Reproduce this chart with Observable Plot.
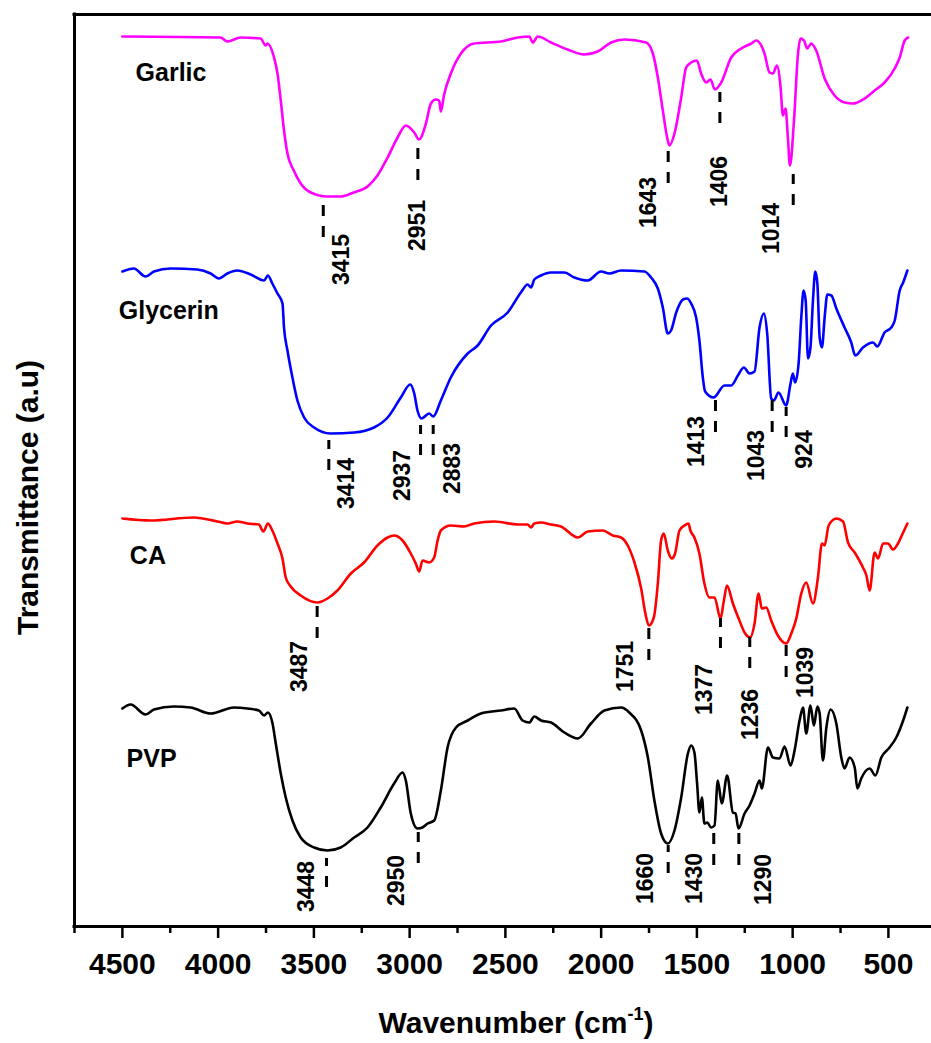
<!DOCTYPE html>
<html>
<head>
<meta charset="utf-8">
<script src="https://cdn.jsdelivr.net/npm/d3@7"></script>
<script src="https://cdn.jsdelivr.net/npm/@observablehq/plot@0.6"></script>
<style>
  body { margin: 0; background: #fff; overflow: hidden; }
  #wrap { position: relative; width: 931px; height: 1043px; font-family: "Liberation Sans", Arial, sans-serif; }
  #xtitle { position: absolute; left: 516px; top: 1005px; transform: translateX(-50%); white-space: nowrap;
            font-size: 30px; font-weight: bold; line-height: 36px; color: #000; }
  #xtitle sup { font-size: 0.6em; line-height: 0; vertical-align: 0.75em; }
</style>
</head>
<body>
<div id="wrap"><div id="xtitle">Wavenumber (cm<sup>-1</sup>)</div></div>
<script>
// ---- Data (wavenumber cm-1, transmittance in arbitrary stacked units) ----
const seriesNames = ["Garlic", "Glycerin", "CA", "PVP"];
const seriesColors = ["#ff00ff", "#0000ff", "#ff0000", "#000000"];

const garlic = [[4500,891],[3987,890],[3952,886],[3882,890],[3778,889],[3752,882],[3743,884],[3708,870],[3690,854],[3673,827],[3656,797],[3638,774],[3605,757],[3569,744],[3516,735],[3429,731],[3360,731],[3292,735],[3220,741],[3168,752],[3115,770],[3063,790],[3020,802],[2976,795],[2951,788],[2915,804],[2889,824],[2863,828],[2846,827],[2837,816],[2821,832],[2785,854],[2732,874],[2664,884],[2523,886],[2436,890],[2375,891],[2357,885],[2331,891],[2262,885],[2175,878],[2088,873],[2018,876],[1948,885],[1879,888],[1765,885],[1730,874],[1704,850],[1678,817],[1652,787],[1643,782],[1617,794],[1582,830],[1556,860],[1530,865],[1500,867],[1478,854],[1452,845],[1429,848],[1406,838],[1373,845],[1321,870],[1269,879],[1216,884],[1190,887],[1164,882],[1147,874],[1121,855],[1103,854],[1082,862],[1063,840],[1051,812],[1037,819],[1025,790],[1014,762],[993,807],[972,874],[959,889],[941,887],[924,879],[903,884],[877,877],[833,849],[781,832],[729,825],[685,824],[633,828],[572,837],[520,845],[467,859],[441,870],[415,887],[397,890]];

const glycerin = [[4500,656],[4440,659],[4379,651],[4335,656],[4248,659],[4109,658],[4039,654],[3996,649],[3952,654],[3900,657],[3830,653],[3760,647],[3740,652],[3717,644],[3690,634],[3664,624],[3656,600],[3638,577],[3612,550],[3586,527],[3551,510],[3499,500],[3412,494],[3290,495],[3186,500],[3115,510],[3046,530],[2997,543],[2976,534],[2959,517],[2938,509],[2898,514],[2877,511],[2837,527],[2785,550],[2697,574],[2645,582],[2575,602],[2488,615],[2419,635],[2384,643],[2366,640],[2349,648],[2314,652],[2262,655],[2192,655],[2140,650],[2070,647],[2001,656],[1957,654],[1896,657],[1774,656],[1739,650],[1704,639],[1678,620],[1652,594],[1635,597],[1608,615],[1573,628],[1551,629],[1530,624],[1504,610],[1487,587],[1469,550],[1457,536],[1413,530],[1356,542],[1321,542],[1286,552],[1255,560],[1225,554],[1199,556],[1173,600],[1150,614],[1133,594],[1112,529],[1098,527],[1074,535],[1034,522],[1011,544],[999,554],[987,545],[969,564],[955,610],[943,637],[932,627],[920,569],[907,580],[894,627],[882,656],[871,644],[859,590],[847,580],[833,610],[819,633],[798,632],[772,619],[729,600],[694,585],[673,572],[633,580],[580,585],[558,581],[520,595],[485,600],[467,607],[441,637],[423,645],[401,657]];

const ca = [[4500,409],[4353,407],[4126,410],[4004,406],[3952,404],[3900,406],[3847,404],[3787,403],[3764,396],[3740,404],[3717,397],[3690,384],[3664,369],[3647,350],[3621,341],[3569,332],[3481,325],[3429,329],[3377,337],[3307,354],[3238,365],[3168,382],[3115,390],[3081,392],[3037,387],[2994,374],[2968,364],[2950,356],[2933,367],[2898,365],[2872,370],[2854,387],[2837,397],[2785,402],[2715,401],[2663,404],[2558,406],[2436,403],[2384,403],[2366,400],[2349,404],[2314,405],[2262,403],[2210,401],[2122,390],[2070,396],[1992,397],[1939,392],[1896,390],[1861,382],[1826,365],[1791,339],[1769,314],[1751,302],[1725,310],[1704,344],[1687,387],[1673,394],[1652,377],[1631,369],[1614,374],[1591,397],[1565,402],[1544,404],[1534,397],[1513,390],[1487,374],[1461,344],[1435,330],[1408,330],[1377,309],[1359,327],[1343,342],[1312,324],[1278,307],[1251,295],[1222,290],[1199,304],[1178,334],[1161,319],[1138,320],[1112,307],[1077,292],[1034,284],[1007,294],[981,309],[955,334],[929,345],[894,324],[868,350],[847,384],[833,382],[812,402],[772,409],[737,406],[711,385],[676,375],[633,360],[615,352],[598,337],[572,375],[554,369],[528,384],[502,384],[476,378],[450,384],[423,395],[401,404]];

const pvp = [[4500,219],[4457,223],[4379,213],[4335,218],[4231,221],[4144,220],[4039,214],[3917,220],[3847,219],[3787,217],[3760,212],[3740,215],[3717,205],[3699,184],[3673,154],[3647,130],[3612,107],[3569,90],[3499,80],[3429,77],[3360,80],[3290,90],[3220,100],[3151,120],[3081,144],[3037,155],[3020,147],[2994,114],[2959,99],[2933,100],[2906,104],[2872,107],[2837,137],[2802,180],[2758,200],[2697,207],[2628,214],[2523,217],[2454,219],[2410,207],[2375,205],[2349,211],[2314,207],[2262,205],[2192,195],[2122,189],[2053,204],[1983,217],[1896,220],[1853,215],[1791,197],[1756,170],[1722,127],[1687,94],[1652,84],[1617,97],[1582,130],[1547,174],[1530,182],[1513,175],[1499,144],[1487,115],[1474,130],[1461,104],[1446,105],[1426,100],[1408,102],[1391,147],[1370,124],[1342,152],[1312,115],[1298,114],[1283,99],[1251,114],[1225,122],[1199,134],[1173,147],[1161,139],[1129,180],[1103,170],[1069,169],[1042,181],[1011,162],[990,177],[964,207],[946,220],[929,194],[907,222],[889,202],[871,221],[859,214],[842,167],[824,200],[802,218],[772,204],[746,170],[729,159],[703,170],[676,160],[662,139],[642,149],[598,159],[568,152],[537,170],[494,180],[459,190],[423,207],[401,220]];

// peak annotations: label, dash position (x, y1..y2), label position (lx, ly)
const peakLabels = ["3415","2951","1643","1406","1014","3414","2937","2883","1413","1043","924","3487","1751","1377","1236","1039","3448","2950","1660","1430","1290"];
const peakDashX  = [3451,2957,1650,1380,997, 3422,2943,2877,1403,1107,1034, 3483,1751,1377,1224,1034, 3434,2955,1650,1412,1281];
const peakDashY1 = [690,747,744,804,722, 457,472,472,495,495,490, 289,267,279,259,250, 40,64,54,62,62];
const peakDashY2 = [722,779,777,835,753, 487,502,502,527,527,520, 322,299,309,290,282, 69,95,82,94,94];
const peakLabelX = [3356,2960,1753,1382,1110, 3330,3039,2778,1502,1189,938, 3575,1873,1460,1220,933, 3539,3069,1768,1513,1152];
const peakLabelY = [668,702,725,746,699, 444,452,459,486,472,478, 261,261,238,213,255, 41,47,49,49,48];

const seriesLabelX = [4431, 4519, 4461, 4478];
const seriesLabelY = [855, 617, 372, 169];

const majorTicks = [4500, 4000, 3500, 3000, 2500, 2000, 1500, 1000, 500];
const minorTicks = [4750, 4250, 3750, 3250, 2750, 2250, 1750, 1250, 750];
const xDomain = [4750, 275];
const yDomain = [1, 913];

// ---- Build tables ----
const rows = [];
[garlic, glycerin, ca, pvp].forEach((arr, i) =>
  arr.forEach(([w, t]) => rows.push({series: seriesNames[i], wn: w, t})));
const annots = peakLabels.map((label, i) => ({
  label, x: peakDashX[i], y1: peakDashY1[i], y2: peakDashY2[i], lx: peakLabelX[i], ly: peakLabelY[i]
}));
const sLabels = seriesNames.map((name, i) => ({name, x: seriesLabelX[i], y: seriesLabelY[i]}));

const font = '"Liberation Sans", Arial, sans-serif';

const chart = Plot.plot({
  width: 931,
  height: 1043,
  marginLeft: 74,
  marginRight: 0,
  marginTop: 14,
  marginBottom: 117,
  x: {domain: xDomain},
  y: {domain: yDomain, axis: null},
  color: {domain: seriesNames, range: seriesColors},
  style: {fontFamily: font, background: "white", color: "black"},
  marks: [
    Plot.axisX({ticks: majorTicks, tickSize: 12, tickPadding: 14, fontSize: 30, fontWeight: "bold",
                strokeWidth: 2.5, label: null, tickFormat: d => String(d)}),
    Plot.axisX({ticks: minorTicks, tickSize: 7, strokeWidth: 2.5, label: null, tickFormat: () => ""}),
    Plot.line(rows, {x: "wn", y: "t", z: "series", stroke: "series", strokeWidth: 2.6, curve: "monotone-x"}),
    Plot.ruleX([xDomain[0]], {strokeWidth: 3, strokeLinecap: "square"}),
    Plot.ruleY([yDomain[0]], {strokeWidth: 3, strokeLinecap: "square"}),
    Plot.ruleY([yDomain[1]], {strokeWidth: 3, strokeLinecap: "square"}),
    Plot.ruleX(annots, {x: "x", y1: "y1", y2: "y2", strokeWidth: 3, strokeDasharray: "11,10"}),
    Plot.text(annots, {x: "lx", y: "ly", text: "label", rotate: -90, fontSize: 23, fontWeight: "bold",
                       textAnchor: "middle", lineAnchor: "middle", fill: "black"}),
    Plot.text(sLabels, {x: "x", y: "y", text: "name", textAnchor: "start", lineAnchor: "middle",
                        fontSize: 25, fontWeight: "bold", fill: "black"}),
    Plot.text(["Transmittance (a.u)"], {frameAnchor: "left", rotate: -90, dx: -46, dy: 27,
                        fontSize: 30, fontWeight: "bold", textAnchor: "middle", lineAnchor: "middle", fill: "black"})
  ]
});
document.getElementById("wrap").prepend(chart);
</script>
</body>
</html>
